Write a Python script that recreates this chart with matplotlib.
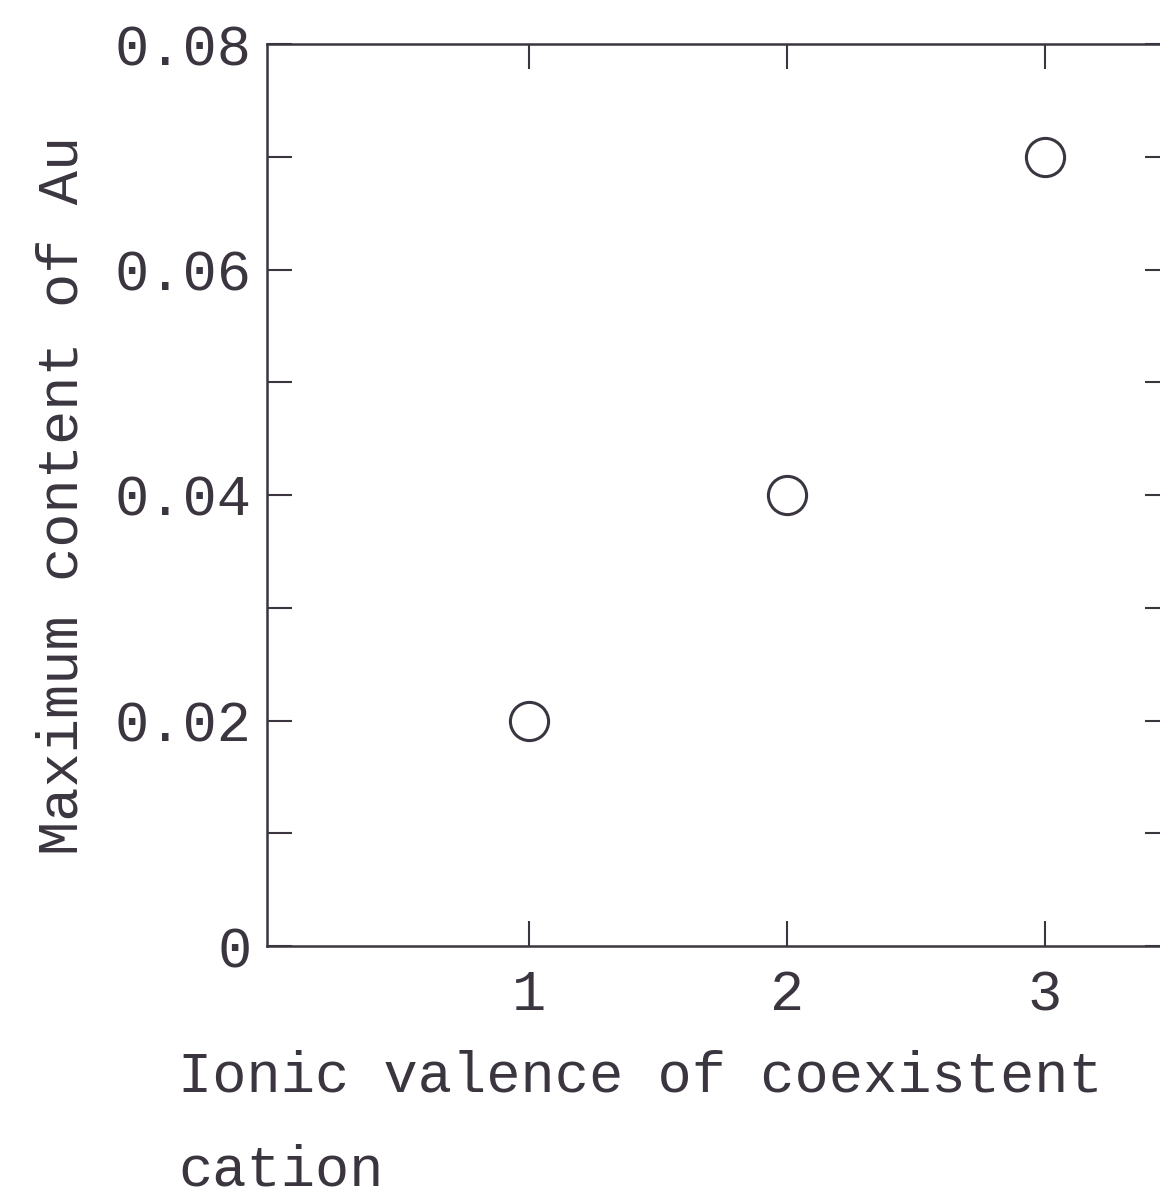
import matplotlib
matplotlib.use('Agg')
import matplotlib.pyplot as plt
from matplotlib.ticker import MultipleLocator, FixedLocator

# data
valence = [1, 2, 3]
max_au = [0.02, 0.04, 0.07]
x_ticks = [1, 2, 3]
y_ticks = [0, 0.02, 0.04, 0.06, 0.08]
y_ticklabels = ['0', '0.02', '0.04', '0.06', '0.08']

ink = '#3b3540'
plt.rcParams['font.family'] = ['Liberation Mono', 'DejaVu Sans Mono']
plt.rcParams['font.size'] = 41

fig = plt.figure(figsize=(11.6, 11.97), dpi=100, facecolor='white')
# right spine sits just past the right edge of the image, as in the scan
ax = fig.add_axes([267 / 1160, 251 / 1197, 903 / 1160, 902 / 1197])

ax.plot(valence, max_au, linestyle='none', marker='o', markersize=27.5,
        markerfacecolor='none', markeredgecolor=ink, markeredgewidth=2.2)

ax.set_xlim(-0.015, 3.485)
ax.set_ylim(0, 0.08)

ax.xaxis.set_major_locator(FixedLocator(x_ticks))
ax.set_xticklabels([str(t) for t in x_ticks])
ax.yaxis.set_major_locator(FixedLocator(y_ticks))
ax.set_yticklabels(y_ticklabels)
ax.yaxis.set_minor_locator(MultipleLocator(0.01))

for s in ax.spines.values():
    s.set_color(ink)
    s.set_linewidth(1.8)

ax.tick_params(axis='both', which='both', direction='in', length=18, width=1.5,
               color=ink, labelcolor=ink, top=True, right=True)
ax.tick_params(axis='x', pad=16)
ax.tick_params(axis='y', pad=11)

ax.set_ylabel('Maximum content of Au', color=ink, labelpad=18)
fig.text(178 / 1160, 1 - 1050 / 1197, 'Ionic valence of coexistent\ncation',
         ha='left', va='top', color=ink, linespacing=1.95)

fig.savefig('out.png', dpi=100, facecolor='white')
